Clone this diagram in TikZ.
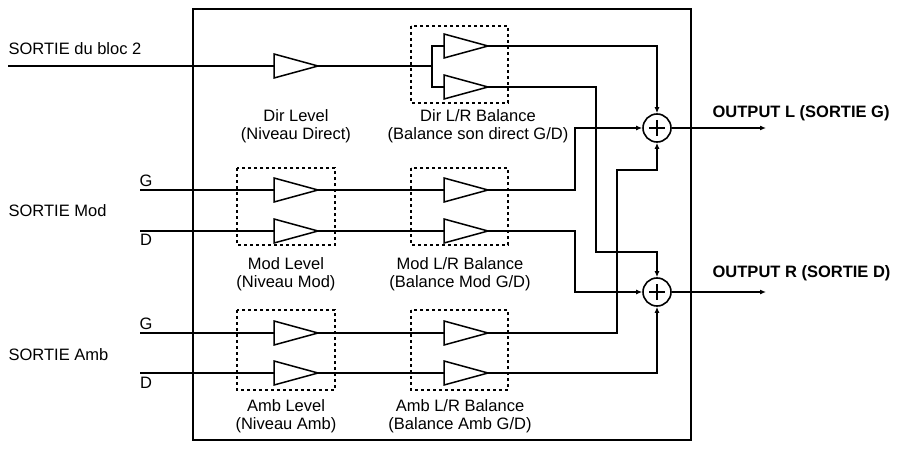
\documentclass[tikz,border=0pt]{standalone}
\usepackage{fontspec}
\setmainfont{Liberation Sans}
\usetikzlibrary{arrows.meta,calc}
\begin{document}
\begin{tikzpicture}[x=1pt,y=-1pt,line width=1.3pt,
 dbox/.style={draw,dashed,line width=1.3pt,dash pattern=on 3pt off 3pt},
 lbl/.style={font=\fontsize{16.5}{18}\selectfont,align=center,inner sep=0pt},
 sum/.style={circle,draw,line width=1.6pt,minimum size=28pt,inner sep=0pt,fill=white},
 arr/.style={-{Latex[length=6pt,width=5pt]}}]
\useasboundingbox (0,0) rectangle (917,449);
\newcommand{\amp}[3]{\draw[line width=1.5pt,fill=white] (#2-22,#3-12) -- (#2+22,#3) -- (#2-22,#3+12) -- cycle;}
\draw[line width=1.6pt] (193,9) rectangle (691,440);
% dashed boxes
\draw[dbox] (411,26) rectangle (508,103);
\draw[dbox] (237,168) rectangle (335,245);
\draw[dbox] (411,168) rectangle (508,245);
\draw[dbox] (237,310) rectangle (335,390);
\draw[dbox] (411,310) rectangle (508,390);
% sums
\node[sum] (sl) at (657,128) {};
\node[sum] (sr) at (657,292) {};
\draw[line width=1.3pt] (sl.center)+(-8,0) -- +(8,0) (sl.center)+(0,-8) -- +(0,8);
\draw[line width=1.3pt] (sr.center)+(-8,0) -- +(8,0) (sr.center)+(0,-8) -- +(0,8);
% wires
\draw (8,66) coordinate (in1) -- (274,66);
\draw (318,66) -- (432,66) coordinate (sp);
\draw (sp) |- (444,46); \draw (sp) |- (444,87);
\draw[arr] (488,46) -| (sl.north);
\draw[arr] (488,87) -| (596,252) -| (sr.north);
\draw (140,190) -- (444,190);
\draw (140,231) -- (444,231);
\draw[arr] (488,190) -| (575,128) -- (sl.west);
\draw[arr] (488,231) -| (575,292) -- (sr.west);
\draw (140,333) -- (444,333);
\draw (140,373) -- (444,373);
\draw[arr] (488,333) -| (617,170) -| (sl.south);
\draw[arr] (488,373) -| (sr.south);
\draw[arr] (sl.east) -- (766,128);
\draw[arr] (sr.east) -- (766,292);
% amps
\amp{a}{296}{66}
\amp{b}{466}{46}\amp{c}{466}{87}
\amp{d}{296}{190}\amp{e}{296}{231}
\amp{f}{466}{190}\amp{g}{466}{231}
\amp{h}{296}{333}\amp{i}{296}{373}
\amp{j}{466}{333}\amp{k}{466}{373}
% labels
\node[lbl,anchor=west] (t1) at (8,49) {SORTIE du bloc 2};
\node[lbl,anchor=west] (t2) at (8,211) {SORTIE Mod};
\node[lbl,anchor=west] (t3) at (8,355) {SORTIE Amb};
\node[lbl] (g1) at (146,181) {G};
\node[lbl] (d1) at (146,240) {D};
\node[lbl] (g2) at (146,324) {G};
\node[lbl] (d2) at (146,383) {D};
\node[lbl] (l1) at (296,126) {Dir Level\\(Niveau Direct)};
\node[lbl] (l2) at (478,126) {Dir L/R Balance\\(Balance son direct G/D)};
\node[lbl] (l3) at (286,274) {Mod Level\\(Niveau Mod)};
\node[lbl] (l4) at (460,274) {Mod L/R Balance\\(Balance Mod G/D)};
\node[lbl] (l5) at (286,416) {Amb Level\\(Niveau Amb)};
\node[lbl] (l6) at (460,416) {Amb L/R Balance\\(Balance Amb G/D)};
\node[lbl,anchor=west,font=\fontsize{16.5}{18}\selectfont\bfseries] (o1) at (712,113) {OUTPUT L (SORTIE G)};
\node[lbl,anchor=west,font=\fontsize{16.5}{18}\selectfont\bfseries] (o2) at (712,273) {OUTPUT R (SORTIE D)};
\end{tikzpicture}
\end{document}
